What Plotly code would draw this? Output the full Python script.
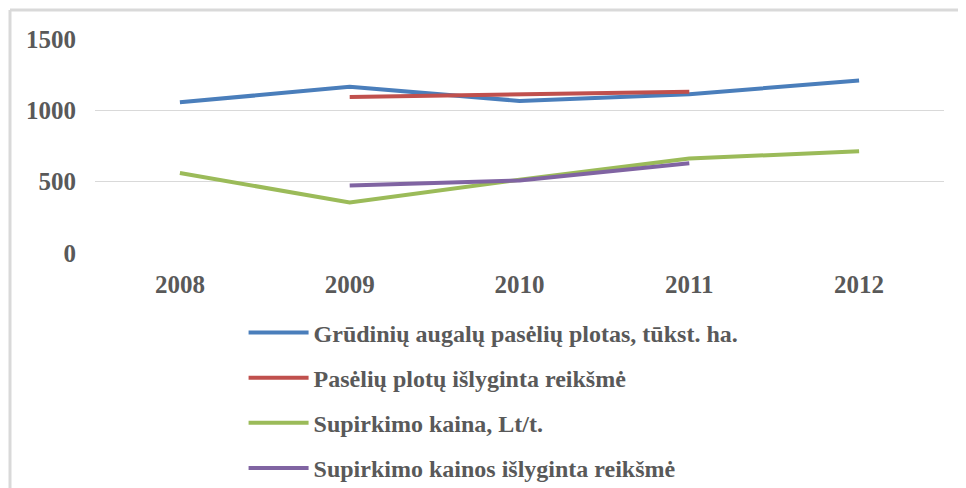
import plotly.graph_objects as go

years = ["2008", "2009", "2010", "2011", "2012"]
area = [1056, 1165, 1066, 1113, 1209]
area_smooth = [None, 1094, 1110, 1131, None]
price = [561, 354, 514, 662, 713]
price_smooth = [None, 474, 509, 629, None]

names = [
    "Grūdinių augalų pasėlių plotas, tūkst. ha.",
    "Pasėlių plotų išlyginta reikšmė",
    "Supirkimo kaina, Lt/t.",
    "Supirkimo kainos išlyginta reikšmė",
]
colors = ["#4a7ebb", "#c0504d", "#9bbb59", "#8064a2"]
series = [area, area_smooth, price, price_smooth]

fig = go.Figure()
for i, (n, c, s) in enumerate(zip(names, colors, series)):
    fig.add_trace(go.Scatter(
        x=years, y=s, name=n, mode="lines",
        line=dict(color=c, width=4),
        legendgroup=f"g{i}",
    ))

FAM = "Liberation Serif"
tickfont = dict(family=FAM, size=25, color="#595959", weight="bold")

# page body adds an 8px offset, so margins compensate
fig.update_layout(
    width=966, height=488,
    margin=dict(l=87, r=30, t=31, b=243, autoexpand=False),
    paper_bgcolor="white", plot_bgcolor="white",
    font=dict(family=FAM, size=20, color="#595959"),
    showlegend=True,
    legend=dict(
        orientation="v", x=0.175, xanchor="left", y=-0.268, yanchor="top",
        font=dict(family=FAM, size=24, color="#595959", weight="bold"),
        tracegroupgap=11, itemwidth=60,
    ),
    xaxis=dict(
        type="category", range=[-0.5, 4.5], showgrid=False, zeroline=False,
        showline=False, ticks="", ticklabelstandoff=14, tickfont=tickfont,
    ),
    yaxis=dict(
        range=[0, 1500], tickvals=[0, 500, 1000, 1500], showgrid=True,
        gridcolor="#d9d9d9", gridwidth=1, zeroline=False, showline=False,
        ticks="", ticklabelstandoff=18, tickfont=tickfont,
    ),
    shapes=[
        dict(type="line", xref="paper", yref="paper",
             x0=-85/849, x1=(966-95)/849, y0=(253-10)/214, y1=(253-10)/214,
             line=dict(color="#d9d9d9", width=3)),
        dict(type="line", xref="paper", yref="paper",
             x0=-85/849, x1=-85/849, y0=(253-10)/214, y1=-(488-253)/214,
             line=dict(color="#d9d9d9", width=3)),
    ],
)

fig.write_html("out.html")
